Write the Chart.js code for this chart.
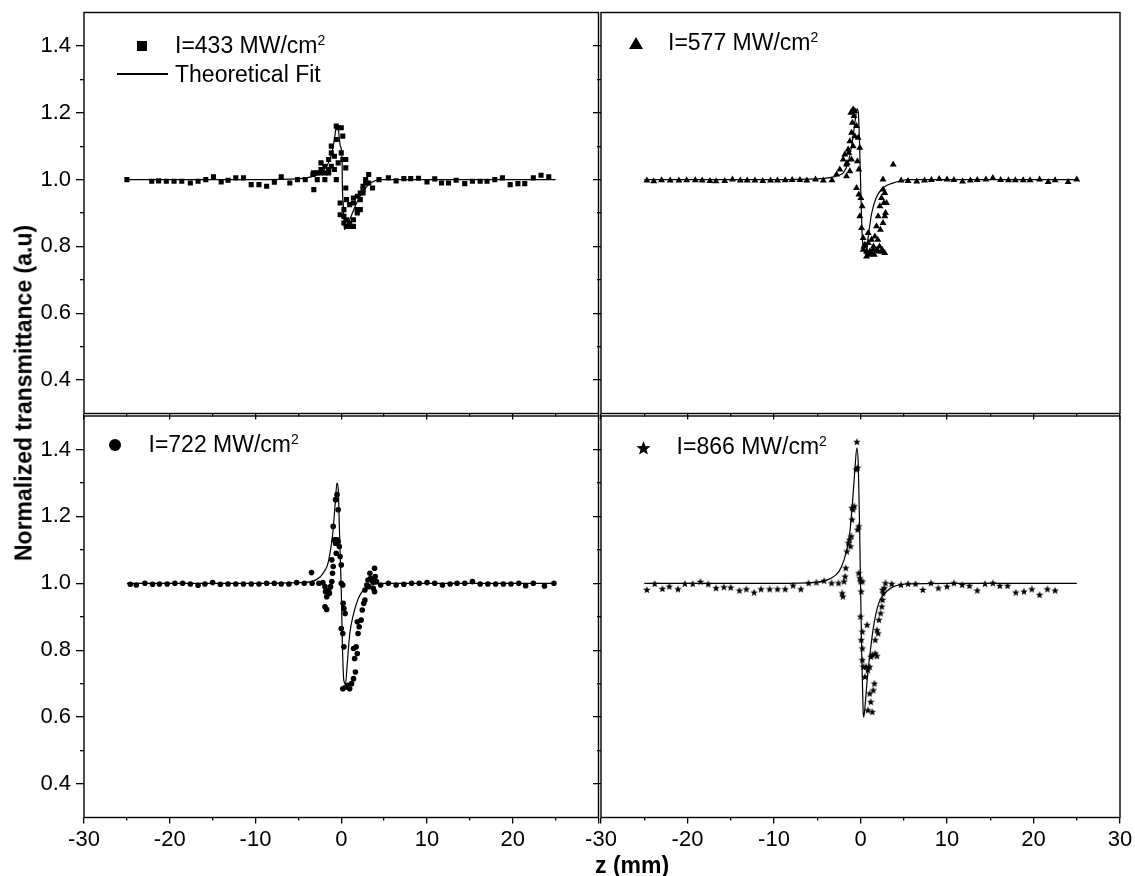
<!DOCTYPE html>
<html>
<head>
<meta charset="utf-8">
<script src="https://cdn.jsdelivr.net/npm/chart.js@4.4.0/dist/chart.umd.min.js"></script>
<style>
html,body{margin:0;padding:0;background:#fff;}
#wrap{position:relative;width:1135px;height:876px;overflow:hidden;font-family:"Liberation Sans",Arial,sans-serif;color:#000;background:#fff;}
#wrap canvas.chart{position:absolute;left:0;top:0;}
.lg{position:absolute;font-size:23px;line-height:23px;white-space:nowrap;}
.lg .sup{font-size:14px;position:relative;top:-8px;}
.sq{position:absolute;width:10px;height:10px;background:#000;}
.ci{position:absolute;width:12px;height:12px;border-radius:50%;background:#000;}
.tri{position:absolute;width:0;height:0;border-left:7px solid transparent;border-right:7px solid transparent;border-bottom:12px solid #000;}
.ln{position:absolute;height:1.5px;background:#000;}
#ytitle{position:absolute;left:23.5px;top:393px;transform:translate(-50%,-50%) rotate(-90deg);font-weight:bold;font-size:23px;line-height:23px;white-space:nowrap;}
#xtitle{position:absolute;left:595px;top:853.5px;font-weight:bold;font-size:23px;line-height:23px;white-space:nowrap;}
</style>
</head>
<body>
<div id="wrap">
  <canvas class="chart" id="c1" width="1135" height="876"></canvas>
  <canvas class="chart" id="c2" width="1135" height="876"></canvas>
  <canvas class="chart" id="c3" width="1135" height="876"></canvas>
  <canvas class="chart" id="c4" width="1135" height="876"></canvas>

  <div class="sq" style="left:137px;top:41px;"></div>
  <div class="lg" style="left:175px;top:34px;">I=433 MW/cm<span class="sup">2</span></div>
  <div class="ln" style="left:117px;top:73.3px;width:51px;"></div>
  <div class="lg" style="left:175px;top:62.5px;">Theoretical Fit</div>

  <div class="tri" style="left:629px;top:37px;"></div>
  <div class="lg" style="left:668px;top:30.5px;">I=577 MW/cm<span class="sup">2</span></div>

  <div class="ci" style="left:109px;top:439px;"></div>
  <div class="lg" style="left:148.5px;top:432.5px;">I=722 MW/cm<span class="sup">2</span></div>

  <canvas id="legStar" width="15" height="15" style="position:absolute;left:636px;top:440.5px;"></canvas>
  <div class="lg" style="left:676.6px;top:434.5px;">I=866 MW/cm<span class="sup">2</span></div>

  <div id="ytitle">Normalized transmittance (a.u)</div>
  <div id="xtitle">z (mm)</div>
</div>
<script>
// ---------------- data ----------------
const xMajor = [-30, -20, -10, 0, 10, 20, 30];
const xMinor = [-25, -15, -5, 5, 15, 25];
const xLabels = ['-30', '-20', '-10', '0', '10', '20', '30'];
const xLabelsNoLast = ['-30', '-20', '-10', '0', '10', '20', ''];
const yMajor = [0.4, 0.6, 0.8, 1.0, 1.2, 1.4];
const yMinor = [0.5, 0.7, 0.9, 1.1, 1.3];
const yLabels = ['0.4', '0.6', '0.8', '1.0', '1.2', '1.4'];

const series433 = 'I=433 MW/cm\u00B2';
const z433 = [-25.0,-22.1,-21.3,-20.4,-19.5,-18.6,-17.6,-16.7,-15.8,-14.9,-14.0,-13.2,-12.3,-11.4,-10.5,-9.6,-8.7,-7.8,-7.0,-6.0,-5.1,-4.2,-3.2,-3.3,
  -3.25,-2.8,-2.8,-2.36,-2.36,-2.36,-1.91,-1.91,-1.91,-1.47,-1.47,-1.47,-1.16,-1.16,-1.16,-0.8,-0.8,-0.58,-0.58,-0.58,-0.36,-0.36,0.0,0.0,0.18,0.18,0.53,0.53,0.53,-0.13,-0.13,0.31,0.31,0.31,0.62,0.62,0.62,0.98,0.98,0.98,1.42,1.42,1.42,1.42,1.87,1.87,1.87,2.22,2.22,2.22,2.54,2.54,2.54,2.85,2.85,3.2,3.2,3.65,
  4.4,5.5,6.4,7.3,8.1,9.0,10.0,10.9,11.7,12.5,13.4,14.4,15.3,16.2,17.0,17.9,18.8,19.7,20.6,21.4,22.4,23.3,24.2];
const t433 = [1.000,0.995,0.996,0.995,0.995,0.995,0.990,0.995,1.000,1.008,0.993,0.998,1.005,1.005,0.985,0.985,0.980,0.992,1.008,0.990,1.000,1.000,0.970,1.015,
  1.02,1.00,1.02,1.05,1.03,1.02,1.04,1.02,1.00,1.06,1.03,1.02,1.10,1.08,1.04,1.07,1.03,1.16,1.12,1.00,1.155,1.05,1.155,1.08,1.13,1.06,1.06,1.035,0.975,0.93,0.895,0.87,0.89,0.91,0.94,0.88,0.86,0.925,0.87,0.86,0.86,0.88,0.93,0.945,0.90,0.91,0.95,0.94,0.96,0.91,0.97,0.96,0.98,0.99,1.00,1.015,0.99,0.975,
  1.000,1.005,0.996,1.003,1.003,1.004,0.993,1.002,0.990,0.990,0.998,0.988,0.995,0.995,0.995,1.000,1.005,0.985,0.988,0.988,1.005,1.013,1.008];
const fitZ433 = [-25,-10,-5,-3.5,-2.5,-2,-1.5,-1.1,-0.8,-0.55,-0.35,-0.1,0.1,0.12,0.25,0.35,0.6,0.9,1.3,1.7,2.2,2.7,3.2,3.8,4.5,10,25];
const fitT433 = [1.0,1.0,1.002,1.008,1.018,1.03,1.05,1.08,1.12,1.16,1.15,1.10,1.06,1.0,0.92,0.85,0.86,0.875,0.9,0.925,0.95,0.97,0.985,0.995,1.0,1.0,1.0];

const series577 = 'I=577 MW/cm\u00B2';
const z577 = [-24.7,-23.9,-23.0,-22.0,-21.0,-20.1,-19.1,-18.3,-17.4,-16.7,-15.7,-14.8,-13.9,-13.1,-12.2,-11.3,-10.4,-9.6,-8.7,-7.9,-7.0,-6.2,-5.2,-4.3,-3.3,
  -2.77,-2.39,-2.0,-1.81,-1.62,-1.43,-1.23,-1.12,-0.85,-0.66,-1.04,-0.66,-0.85,-0.46,-0.27,-0.08,-1.04,-1.23,-1.62,-0.35,-0.19,-0.46,-0.19,0.04,0.19,-0.08,0.12,0.31,0.5,0.31,0.69,1.08,1.46,0.89,1.27,1.66,1.85,2.04,2.24,2.43,2.62,2.6,2.81,3.0,2.04,2.43,2.8,3.78,
  0.4,0.7,1.0,1.3,1.6,1.9,2.2,2.5,0.9,1.5,2.0,2.3,2.6,2.9,2.7,2.8,-0.95,-0.75,-1.35,-1.55,
  4.7,5.5,6.5,7.4,8.2,9.1,10.0,10.8,11.8,12.7,13.5,14.5,15.3,16.2,17.1,17.9,18.8,19.6,20.7,21.7,22.5,24.0,25.0];
const t577 = [0.997,0.995,0.998,0.997,0.997,0.998,0.998,0.997,0.996,0.995,0.996,1.000,0.997,0.997,0.997,0.996,0.997,0.997,0.998,0.999,0.999,0.997,1.000,0.997,0.998,
  1.015,1.03,1.06,1.075,1.045,1.09,1.115,1.20,1.21,1.205,1.14,1.13,1.10,1.16,1.125,1.095,1.06,1.025,1.01,1.055,1.03,0.975,0.955,0.945,0.92,0.89,0.855,0.825,0.805,0.79,0.785,0.785,0.79,0.84,0.82,0.83,0.86,0.89,0.92,0.945,0.97,1.0,0.89,0.93,0.785,0.785,0.78,1.045,
  0.80,0.77,0.775,0.78,0.775,0.79,0.80,0.79,0.81,0.80,0.82,0.85,0.87,0.90,0.93,0.96,1.17,1.19,1.08,1.05,
  0.997,0.996,0.994,0.997,0.999,1.002,1.000,0.999,0.994,0.997,0.999,1.000,1.005,0.999,0.998,0.998,0.998,0.998,1.000,0.993,0.998,0.993,1.000];
const fitZ577 = [-25,-10,-5,-3.5,-2.5,-2,-1.5,-1.1,-0.8,-0.55,-0.4,-0.25,-0.1,0.05,0.2,0.45,0.65,0.9,1.3,1.8,2.4,3.0,3.8,4.5,5.5,10,25];
const fitT577 = [1.0,1.0,1.002,1.006,1.013,1.02,1.045,1.09,1.14,1.19,1.212,1.2,1.1,0.95,0.83,0.785,0.775,0.83,0.9,0.945,0.97,0.982,0.99,0.995,1.0,1.0,1.0];

const series722 = 'I=722 MW/cm\u00B2';
const z722 = [-24.6,-23.9,-22.9,-22.0,-21.2,-20.3,-19.4,-18.5,-17.6,-16.7,-15.9,-15.0,-14.1,-13.2,-12.3,-11.4,-10.5,-9.6,-8.7,-7.8,-7.0,-6.1,-5.2,-4.3,-3.4,
  -3.47,-2.6,-2.14,-1.9,-1.83,-1.7,-1.9,-1.7,-1.47,-1.38,-1.25,-1.1,-1.02,-0.94,-1.1,-0.94,-0.8,-0.67,-0.58,-0.49,-0.36,-0.67,-0.49,-0.36,-0.22,-0.13,0.0,0.0,0.18,0.22,0.31,0.45,0.0,0.18,0.31,0.18,0.53,0.76,0.98,1.2,1.43,1.65,1.56,1.87,1.74,1.43,1.96,2.09,2.32,1.87,2.45,2.63,2.76,2.76,2.98,3.12,3.2,3.34,3.43,3.65,3.74,3.88,3.96,4.1,3.88,
  4.6,5.5,6.4,7.3,8.2,9.1,10.0,10.9,11.8,12.7,13.5,14.4,15.3,16.2,17.1,18.0,18.9,19.8,20.7,21.5,22.4,23.7,24.8];
const t722 = [0.997,0.995,1.0,0.997,0.998,0.998,1.0,1.0,0.998,0.994,0.998,1.002,0.997,0.998,0.998,0.998,0.998,0.998,1.0,1.0,0.998,0.998,1.002,1.0,1.0,
  1.032,1.0,1.002,0.99,0.975,0.96,0.93,0.922,0.98,0.97,0.99,1.005,1.03,1.05,1.07,1.17,1.13,1.12,1.09,1.13,1.125,1.25,1.265,1.22,1.11,1.08,1.055,1.0,0.995,0.94,0.925,0.91,0.865,0.85,0.81,0.685,0.69,0.695,0.685,0.70,0.715,0.735,0.775,0.79,0.81,0.805,0.85,0.87,0.89,0.885,0.92,0.94,0.95,0.98,0.995,1.01,0.99,1.03,1.015,1.005,0.985,1.045,1.02,1.005,0.975,
  0.995,1.0,0.995,0.997,1.0,1.0,1.002,1.0,0.995,0.998,1.0,1.0,1.005,0.998,0.998,0.998,0.998,0.998,1.0,0.993,1.0,0.992,1.0];
const fitZ722 = [-25,-10,-5,-3.5,-2.5,-2,-1.6,-1.25,-0.95,-0.7,-0.5,-0.35,-0.2,0.0,0.15,0.3,0.5,0.7,1.0,1.4,2.0,2.6,3.2,4.0,5,10,25];
const fitT722 = [1.0,1.0,1.002,1.005,1.018,1.035,1.055,1.10,1.16,1.24,1.30,1.28,1.15,0.98,0.80,0.71,0.70,0.76,0.85,0.905,0.955,0.98,0.992,0.998,1.0,1.0,1.0];

const series866 = 'I=866 MW/cm\u00B2';
const z866 = [-24.7,-23.8,-22.9,-22.1,-21.1,-20.3,-19.4,-18.5,-17.6,-16.7,-15.8,-15.0,-14.0,-13.2,-12.3,-11.5,-10.5,-9.6,-8.7,-7.8,-6.9,-6.0,-5.1,-4.2,-3.35,
  -2.55,-2.12,-2.04,-1.9,-1.78,-1.7,-1.57,-1.4,-1.27,-1.15,-1.06,-0.98,-0.98,-0.85,-0.72,-0.51,-0.34,-0.42,-0.21,-0.34,-0.21,-0.08,0.0,0.21,0.08,0.0,0.21,0.08,0.21,0.21,0.34,0.51,0.76,0.64,0.85,1.06,1.19,1.36,1.9,1.7,1.06,1.19,0.85,1.36,1.61,1.48,1.7,1.9,2.04,2.12,2.33,2.46,2.55,2.63,2.76,2.89,2.55,
  3.6,4.67,5.5,6.36,7.2,8.15,9.0,10.0,10.8,11.75,12.6,13.5,14.4,15.3,16.1,17.0,17.95,18.9,19.8,20.7,21.6,22.5];
const t866 = [0.98,0.998,0.983,0.99,0.982,0.998,0.998,1.004,0.997,0.985,0.988,0.987,0.978,0.982,0.972,0.982,0.982,0.982,0.982,0.993,0.982,1.0,1.002,1.007,1.0,
  1.0,0.97,0.96,1.005,1.02,1.045,1.095,1.12,1.13,1.11,1.14,1.19,1.225,1.22,1.23,1.34,1.345,1.422,1.17,1.16,1.03,1.015,1.005,1.005,0.975,0.90,0.855,0.83,0.805,0.77,0.75,0.72,0.875,0.75,0.74,0.75,0.78,0.785,0.782,0.79,0.67,0.645,0.62,0.615,0.70,0.68,0.83,0.86,0.85,0.89,0.91,0.93,0.95,0.97,0.985,1.0,0.98,
  0.998,0.995,0.998,0.998,0.98,1.0,0.985,0.99,1.0,0.995,0.992,0.978,0.998,1.0,0.992,0.992,0.972,0.975,0.982,0.965,0.982,0.978];
const fitZ866 = [-25,-10,-5,-3.4,-2.5,-1.9,-1.5,-1.2,-0.9,-0.65,-0.42,-0.25,-0.1,0.0,0.15,0.3,0.38,0.55,0.8,1.1,1.5,2.1,3.0,3.8,5.5,10,25];
const fitT866 = [1.0,1.0,1.003,1.015,1.035,1.07,1.11,1.16,1.25,1.34,1.405,1.35,1.16,1.0,0.78,0.62,0.60,0.64,0.72,0.79,0.87,0.94,0.975,0.99,0.998,1.0,1.0];

// ---------------- helpers ----------------
const FONT = '"Liberation Sans", Arial, sans-serif';
const W = 1135, H = 876;

function pairs(zs, ts) { return zs.map((z, i) => ({ x: z, y: ts[i] })); }

function makeStar(size) {
  const c = document.createElement('canvas');
  c.width = size; c.height = size;
  const g = c.getContext('2d');
  const R = size / 2, r = R * 0.42;
  g.beginPath();
  for (let k = 0; k < 10; k++) {
    const a = -Math.PI / 2 + k * Math.PI / 5;
    const rr = (k % 2) ? r : R;
    g.lineTo(R + rr * Math.cos(a), R + rr * Math.sin(a));
  }
  g.closePath();
  g.fillStyle = '#000';
  g.fill();
  return c;
}
(function () {
  const c = document.getElementById('legStar');
  c.getContext('2d').drawImage(makeStar(15), 0, 0);
})();

const framePlugin = {
  id: 'frame',
  afterDraw(chart) {
    const a = chart.chartArea, ctx = chart.ctx;
    ctx.save();
    ctx.strokeStyle = '#000';
    ctx.lineWidth = 1.4;
    ctx.strokeRect(a.left, a.top, a.right - a.left, a.bottom - a.top);
    ctx.restore();
  }
};

function panel(id, area, showX, showY, xLab, label, z, t, fz, ft, pointOpts) {
  const yW = showY ? 84 : 10;
  const xH = showX ? 40 : 10;
  const tickFont = { family: FONT, size: 22 };
  const gridMajor = (len) => ({ drawOnChartArea: false, drawTicks: true, tickLength: len, tickColor: '#000', tickWidth: 1.3, color: '#000', lineWidth: 1.3 });
  return new Chart(document.getElementById(id), {
    type: 'scatter',
    data: {
      datasets: [
        {
          label: 'Theoretical Fit',
          data: pairs(fz, ft),
          showLine: true,
          borderColor: '#000',
          borderWidth: 1.2,
          pointRadius: 0,
          cubicInterpolationMode: 'monotone',
          fill: false
        },
        Object.assign({
          label: label,
          data: pairs(z, t),
          showLine: false,
          backgroundColor: '#000',
          borderColor: '#000',
          borderWidth: 0
        }, pointOpts)
      ]
    },
    options: {
      responsive: false,
      devicePixelRatio: 1,
      animation: false,
      events: [],
      layout: {
        autoPadding: false,
        padding: { left: area.left - yW, top: area.top, right: W - area.right, bottom: H - area.bottom - xH }
      },
      plugins: { legend: { display: false }, tooltip: { enabled: false }, title: { display: false } },
      scales: {
        x: {
          type: 'linear', position: 'bottom', weight: 1, min: -30, max: 30,
          afterBuildTicks: s => { s.ticks = xMajor.map(v => ({ value: v })); },
          afterFit: s => { s.height = xH; s.paddingLeft = 0; s.paddingRight = 0; },
          ticks: { display: showX, autoSkip: false, maxRotation: 0, padding: 3, color: '#000', font: tickFont, callback: (v, i) => xLab[i] },
          grid: gridMajor(6),
          border: { display: false }
        },
        x2: {
          type: 'linear', position: 'bottom', weight: 0, min: -30, max: 30,
          afterBuildTicks: s => { s.ticks = xMinor.map(v => ({ value: v })); },
          afterFit: s => { s.height = 0; s.paddingLeft = 0; s.paddingRight = 0; },
          ticks: { display: false },
          grid: gridMajor(3),
          border: { display: false }
        },
        y: {
          type: 'linear', position: 'left', weight: 1, min: 0.3, max: 1.5,
          afterBuildTicks: s => { s.ticks = yMajor.map(v => ({ value: v })); },
          afterFit: s => { s.width = yW; s.paddingTop = 0; s.paddingBottom = 0; },
          ticks: { display: showY, autoSkip: false, padding: 5, color: '#000', font: tickFont, callback: (v, i) => yLabels[i] },
          grid: gridMajor(8),
          border: { display: false }
        },
        y2: {
          type: 'linear', position: 'left', weight: 0, min: 0.3, max: 1.5,
          afterBuildTicks: s => { s.ticks = yMinor.map(v => ({ value: v })); },
          afterFit: s => { s.width = 0; s.paddingTop = 0; s.paddingBottom = 0; },
          ticks: { display: false },
          grid: gridMajor(4),
          border: { display: false }
        }
      }
    },
    plugins: [framePlugin]
  });
}

const starImg = makeStar(8);

panel('c1', { left: 84, right: 598.5, top: 12.5, bottom: 413.5 }, false, true, xLabels, series433, z433, t433, fitZ433, fitT433,
  { pointStyle: 'rect', pointRadius: 3.6 });
panel('c2', { left: 601, right: 1120, top: 12.5, bottom: 413.5 }, false, false, xLabels, series577, z577, t577, fitZ577, fitT577,
  { pointStyle: 'triangle', pointRadius: 4 });
panel('c3', { left: 84, right: 598.5, top: 416, bottom: 817.5 }, true, true, xLabelsNoLast, series722, z722, t722, fitZ722, fitT722,
  { pointStyle: 'circle', pointRadius: 2.8 });
panel('c4', { left: 601, right: 1120, top: 416, bottom: 817.5 }, true, false, xLabels, series866, z866, t866, fitZ866, fitT866,
  { pointStyle: starImg, pointRadius: 4 });
</script>
</body>
</html>
